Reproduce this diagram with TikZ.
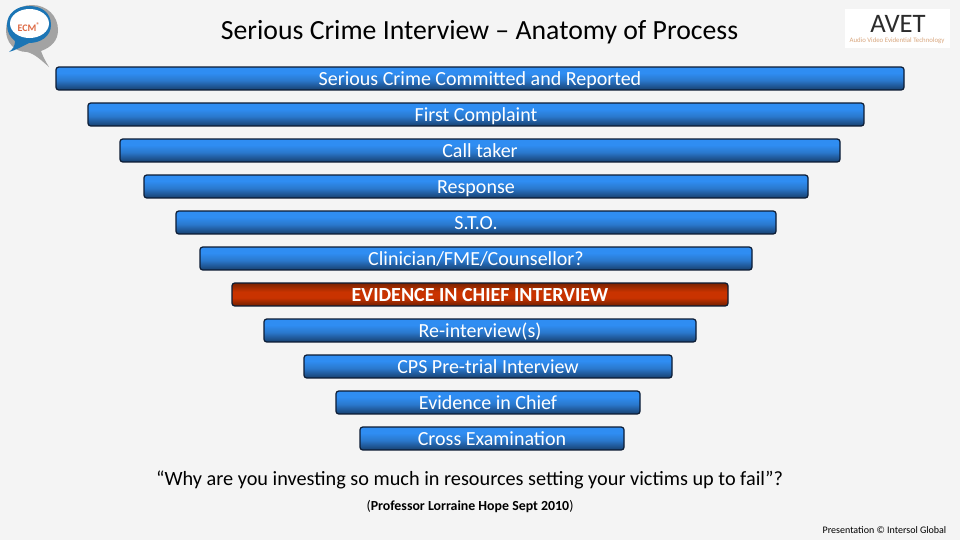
\documentclass[tikz,border=0pt]{standalone}
\usepackage{fontspec}
\setmainfont{Carlito}
\definecolor{bgc}{HTML}{F4F4F4}
\definecolor{bluetop}{HTML}{2F8DF2}
\definecolor{bluemid}{HTML}{2A78CC}
\definecolor{bluebot}{HTML}{173F6E}
\definecolor{redtop}{HTML}{7A2200}
\definecolor{redmid}{HTML}{C93300}
\definecolor{redbot}{HTML}{6E1E00}
\definecolor{edgec}{HTML}{0B1B33}
\definecolor{ecmblue}{HTML}{1B75B5}
\definecolor{ecmgrey}{HTML}{A3A3A3}
\definecolor{ecmred}{HTML}{DE6A45}
\definecolor{avettext}{HTML}{2B2B2B}
\definecolor{avetsub}{HTML}{D9A77F}
\pgfdeclareverticalshading{bluebar}{100bp}{color(0bp)=(bluebot);color(25bp)=(bluebot);color(46bp)=(bluemid);color(62bp)=(bluetop);color(100bp)=(bluetop)}
\pgfdeclareverticalshading{redbar}{100bp}{color(0bp)=(redbot);color(25bp)=(redbot);color(43bp)=(redmid);color(56bp)=(redmid);color(75bp)=(redtop);color(100bp)=(redtop)}
\tikzset{
  x=0.75pt,y=-0.75pt,
  barbox/.style={draw=edgec,line width=0.9pt,rounded corners=2pt,inner sep=0pt,
    minimum height=17.2pt,text height=12.5pt,text depth=1.3pt,text=white,font=\fontsize{15}{17}\selectfont,anchor=center},
  bluebox/.style={barbox,shading=bluebar},
  redbox/.style={barbox,shading=redbar,font=\bfseries\fontsize{15}{17}\selectfont},
}
\begin{document}
\begin{tikzpicture}
\useasboundingbox (0,0) rectangle (960,540);
\fill[bgc] (0,0) rectangle (960,540);
% ECM logo
\fill[ecmgrey] (49,67) .. controls (41,60) and (35,54) .. (27,52)
  .. controls (14,52) and (6,42) .. (6,30)
  .. controls (6,15) and (18,5) .. (32,5)
  .. controls (47,5) and (58,16) .. (58,30)
  .. controls (58,40) and (52,47) .. (41,51) .. controls (43,57) and (46,62) .. (49,67) -- cycle;
\fill[ecmblue] (9,52) .. controls (13,49) and (15,46) .. (15,41)
  .. controls (10,37) and (7,32) .. (7,25) .. controls (7,13) and (17,6) .. (29,6)
  .. controls (42,6) and (51,13) .. (51,25) .. controls (51,36) and (41,43) .. (29,43)
  .. controls (23,46) and (16,50) .. (9,52) -- cycle;
\fill[white] (29.5,23.5) circle[x radius=19.5,y radius=14.5];
\node[inner sep=0pt,text=ecmred,font=\bfseries\fontsize{7.5}{8}\selectfont] (ecm) at (29,27) {ECM\textsuperscript{\tiny ®}};
% AVET logo
\fill[white] (845,9) rectangle (950,48);
\node[inner sep=0pt,text=avettext,font=\fontsize{20}{22}\selectfont] (avet) at (898,24) {AVET};
\node[inner sep=0pt,text=avetsub,font=\fontsize{5.1}{6}\selectfont] (avetsub) at (897,41) {Audio Video Evidential Technology};
% Title
\node[inner sep=0pt,text=black,font=\fontsize{20.8}{24}\selectfont] (title) at (479.5,32) {Serious Crime Interview – Anatomy of Process};
% Bars
\node[bluebox,minimum width=636pt] (b1) at (480,78.5) {Serious Crime Committed and Reported};
\node[bluebox,minimum width=582pt] (b2) at (476,114.5) {First Complaint};
\node[bluebox,minimum width=540pt] (b3) at (480,150.5) {Call taker};
\node[bluebox,minimum width=498pt] (b4) at (476,186.5) {Response};
\node[bluebox,minimum width=450pt] (b5) at (476,222.5) {S.T.O.};
\node[bluebox,minimum width=414pt] (b6) at (476,258.5) {Clinician/FME/Counsellor?};
\node[redbox,minimum width=372pt] (b7) at (480,294.5) {EVIDENCE IN CHIEF INTERVIEW};
\node[bluebox,minimum width=324pt] (b8) at (480,330.5) {Re-interview(s)};
\node[bluebox,minimum width=276pt] (b9) at (488,366.5) {CPS Pre-trial Interview};
\node[bluebox,minimum width=228pt] (b10) at (488,402.5) {Evidence in Chief};
\node[bluebox,minimum width=198pt] (b11) at (492,438.5) {Cross Examination};
% Quote
\node[inner sep=0pt,text=black,font=\fontsize{15.2}{18}\selectfont] (quote) at (469.5,479.5) {“Why are you investing so much in resources setting your victims up to fail”?};
\node[inner sep=0pt,text=black,font=\fontsize{10.4}{12}\selectfont] (source) at (470,507) {(\textbf{Professor Lorraine Hope Sept 2010})};
\node[inner sep=0pt,text=black,font=\fontsize{7.5}{9}\selectfont] (credit) at (884.5,530.5) {Presentation © Intersol Global};
\end{tikzpicture}
\end{document}
